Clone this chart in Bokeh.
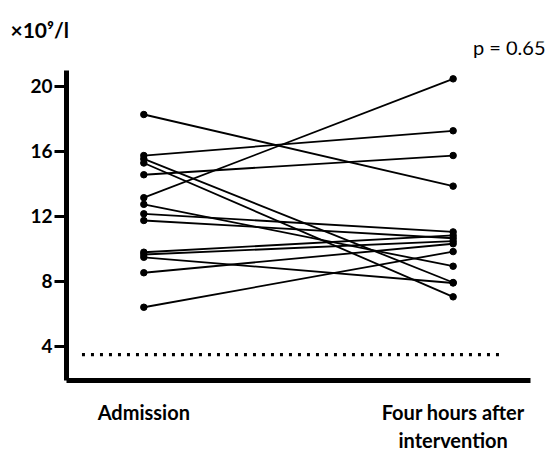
from bokeh.plotting import figure
from bokeh.models import Range1d, FixedTicker, Title, Label, ColumnDataSource
from bokeh.embed import file_html
from bokeh.resources import INLINE

# ---- data ----
categories = ["Admission", "Four hours after\nintervention"]
admission = [18.25, 15.73, 15.52, 15.27, 14.55, 13.14, 12.73, 12.15, 11.74, 9.79, 9.65, 9.48, 8.53, 6.41]
four_hours = [13.85, 17.25, 7.93, 7.05, 15.73, 20.44, 8.93, 11.04, 10.65, 10.82, 10.47, 7.90, 10.31, 9.83]
y_ticks = [4, 8, 12, 16, 20]
lower_limit = 3.5
limit_x = [-0.2, 1.15]
unit_text = "×10⁹/l"
p_text = "p = 0.65"

FONT = "Lato"
ML, MR, MT, MB = 66, 0, 41, 72
FW, FH = 481, 339
PX_X = 309.3          # pixels per x unit
PX_Y = 16.28          # pixels per y unit
X0 = -0.25
X1 = X0 + FW / PX_X
Y0 = 1.911
Y1 = Y0 + FH / PX_Y
X_AXIS_END = 1.25     # where the drawn x axis stops
Y_AXIS_END = 20.95    # where the drawn y axis stops

p = figure(width=ML + FW + MR, height=MT + FH + MB, frame_width=FW, frame_height=FH,
           output_backend="svg", toolbar_location=None,
           x_range=Range1d(X0, X1), y_range=Range1d(Y0, Y1),
           min_border_left=ML, min_border_right=MR, min_border_top=MT, min_border_bottom=MB)
p.outline_line_color = None
p.xgrid.visible = False
p.ygrid.visible = False
p.background_fill_color = "white"
p.border_fill_color = "white"

# paired lines
xs = [[0, 1] for _ in admission]
ys = [[a, b] for a, b in zip(admission, four_hours)]
p.multi_line(xs=xs, ys=ys, line_color="black", line_width=1.8)
src = ColumnDataSource(dict(x=[0] * len(admission) + [1] * len(four_hours),
                            y=admission + four_hours))
p.scatter("x", "y", source=src, size=6.5, fill_color="black", line_color="black")

# dotted reference line
p.line(limit_x, [lower_limit, lower_limit], line_color="black", line_width=3.2,
       line_dash="3 6")

# axes
ya = p.yaxis[0]
ya.bounds = (Y0, Y_AXIS_END)
ya.ticker = FixedTicker(ticks=y_ticks)
ya.axis_line_width = 5
ya.axis_line_color = "black"
ya.major_tick_line_width = 3
ya.major_tick_out = 12
ya.major_tick_in = 0
ya.minor_tick_out = 0
ya.minor_tick_in = 0
ya.major_label_text_font = FONT
ya.major_label_text_font_style = "bold"
ya.major_label_text_font_size = "19px"
ya.major_label_text_color = "black"
ya.major_label_standoff = 2

xa = p.xaxis[0]
xa.bounds = (X0, X_AXIS_END)
xa.ticker = FixedTicker(ticks=list(range(len(categories))))
xa.major_label_overrides = {i: c for i, c in enumerate(categories)}
xa.axis_line_width = 5
xa.axis_line_color = "black"
xa.major_tick_out = 0
xa.major_tick_in = 0
xa.minor_tick_out = 0
xa.minor_tick_in = 0
xa.major_label_text_font = FONT
xa.major_label_text_font_style = "bold"
xa.major_label_text_font_size = "20px"
xa.major_label_text_color = "black"
xa.major_label_standoff = 19

# unit label (title above the frame)
p.add_layout(Title(text=unit_text, align="left", offset=-56, text_font=FONT,
                   text_font_style="bold", text_font_size="21px", text_color="black",
                   standoff=0), "above")

# p value (inside the extended frame, top right)
p.add_layout(Label(x=X0 + (545 - ML) / PX_X, y=20 + (85.5 - 46) / PX_Y, text=p_text,
                   text_font=FONT, text_font_size="20px", text_baseline="middle",
                   text_align="right", text_color="black"))

open("out.html", "w").write(file_html(p, INLINE))
